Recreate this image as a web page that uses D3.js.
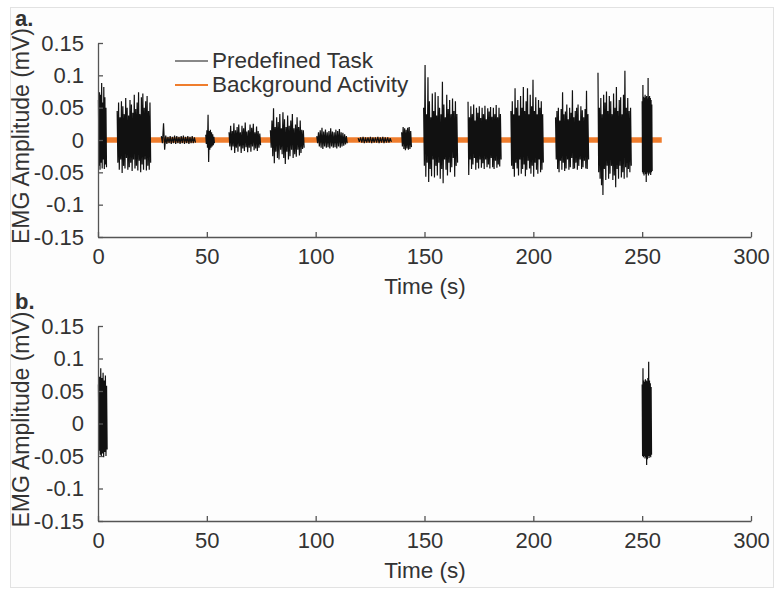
<!DOCTYPE html>
<html>
<head>
<meta charset="utf-8">
<script src="https://cdn.jsdelivr.net/npm/d3@7"></script>
<style>
  body { margin: 0; background: #ffffff; }
  text { font-family: "Liberation Sans", Arial, sans-serif; fill: #333; }
</style>
</head>
<body>
<div id="okvir"></div>
<script>
// osi
var xTicks = [0, 50, 100, 150, 200, 250, 300];
var xTickLabels = ["0", "50", "100", "150", "200", "250", "300"];
var yTicks = [-0.15, -0.1, -0.05, 0, 0.05, 0.1, 0.15];
var yTickLabels = ["-0.15", "-0.1", "-0.05", "0", "0.05", "0.1", "0.15"];

// panel a: pocetak i kraj svakog bloka (s) i vrhovi signala (mV)
var burstStartA = [0.2, 8.8, 29.1, 49.5, 60.2, 79.2, 100.5, 119.5, 139.5, 149.6, 170.0, 189.7, 210.2, 229.7, 250.0];
var burstEndA   = [3.9, 24.2, 44.8, 53.5, 74.7, 94.7, 114.5, 134.8, 144.0, 165.2, 185.2, 204.6, 225.4, 245.0, 254.6];
var peaksUpA = [
  [0.062, 0.074, 0.07, 0.088, 0.058, 0.082, 0.066, 0.05],
  [0.045, 0.058, 0.035, 0.06, 0.052, 0.04, 0.065, 0.05, 0.038, 0.062, 0.055, 0.042, 0.07, 0.048, 0.058, 0.074, 0.04, 0.066, 0.072, 0.05, 0.06, 0.068, 0.045, 0.058],
  [0.006, 0.026, 0.007, 0.005, 0.006, 0.005, 0.007, 0.006, 0.005, 0.006, 0.007, 0.005, 0.006, 0.005, 0.006, 0.004],
  [0.008, 0.015, 0.039, 0.014, 0.016, 0.012, 0.009, 0.005],
  [0.012, 0.022, 0.014, 0.026, 0.015, 0.02, 0.024, 0.012, 0.022, 0.018, 0.027, 0.013, 0.015, 0.024, 0.019, 0.025, 0.012, 0.021, 0.014, 0.01],
  [0.015, 0.03, 0.049, 0.02, 0.035, 0.028, 0.04, 0.018, 0.043, 0.032, 0.02, 0.038, 0.022, 0.03, 0.04, 0.018, 0.024, 0.035, 0.02, 0.03, 0.016, 0.015],
  [0.006, 0.012, 0.015, 0.019, 0.013, 0.016, 0.012, 0.014, 0.018, 0.013, 0.012, 0.016, 0.014, 0.017, 0.012, 0.011, 0.009, 0.006],
  [0.003, 0.004, 0.005, 0.004, 0.004, 0.005, 0.004, 0.004, 0.005, 0.004, 0.005, 0.004, 0.004, 0.003],
  [0.012, 0.02, 0.018, 0.016, 0.019, 0.02, 0.014],
  [0.05, 0.116, 0.04, 0.097, 0.06, 0.035, 0.072, 0.045, 0.074, 0.038, 0.068, 0.05, 0.04, 0.09, 0.055, 0.035, 0.07, 0.048, 0.062, 0.04, 0.064, 0.045, 0.06, 0.04],
  [0.059, 0.035, 0.052, 0.04, 0.055, 0.03, 0.05, 0.042, 0.052, 0.034, 0.05, 0.04, 0.053, 0.032, 0.049, 0.044, 0.051, 0.036, 0.05, 0.04, 0.054, 0.035, 0.05, 0.04],
  [0.045, 0.06, 0.04, 0.08, 0.05, 0.062, 0.038, 0.068, 0.05, 0.082, 0.045, 0.06, 0.08, 0.04, 0.07, 0.052, 0.093, 0.045, 0.066, 0.04, 0.062, 0.05, 0.06, 0.04],
  [0.035, 0.045, 0.05, 0.03, 0.048, 0.074, 0.04, 0.044, 0.055, 0.032, 0.05, 0.042, 0.077, 0.035, 0.045, 0.05, 0.055, 0.03, 0.052, 0.046, 0.035, 0.048, 0.076, 0.04],
  [0.104, 0.05, 0.065, 0.04, 0.07, 0.058, 0.075, 0.045, 0.068, 0.06, 0.04, 0.072, 0.05, 0.082, 0.045, 0.062, 0.066, 0.04, 0.07, 0.107, 0.05, 0.065, 0.045, 0.05],
  [0.06, 0.085, 0.067, 0.065, 0.07, 0.066, 0.068, 0.064, 0.096, 0.066, 0.068, 0.065, 0.062, 0.055]
];
var peaksLoA = [
  [-0.04, -0.046, -0.035, -0.044, -0.03, -0.045, -0.038, -0.042],
  [-0.035, -0.046, -0.03, -0.051, -0.04, -0.044, -0.028, -0.046, -0.042, -0.035, -0.048, -0.03, -0.044, -0.04, -0.047, -0.032, -0.05, -0.038, -0.046, -0.03, -0.047, -0.04, -0.046, -0.035],
  [-0.005, -0.015, -0.006, -0.005, -0.006, -0.005, -0.006, -0.005, -0.006, -0.005, -0.006, -0.005, -0.006, -0.005, -0.005, -0.004],
  [-0.006, -0.012, -0.034, -0.015, -0.012, -0.01, -0.008, -0.005],
  [-0.01, -0.016, -0.01, -0.02, -0.012, -0.018, -0.01, -0.02, -0.013, -0.017, -0.011, -0.019, -0.012, -0.018, -0.01, -0.016, -0.013, -0.017, -0.012, -0.008],
  [-0.012, -0.025, -0.036, -0.018, -0.028, -0.03, -0.015, -0.022, -0.028, -0.037, -0.018, -0.03, -0.025, -0.015, -0.028, -0.022, -0.026, -0.015, -0.024, -0.02, -0.014, -0.012],
  [-0.005, -0.01, -0.012, -0.014, -0.01, -0.012, -0.011, -0.013, -0.01, -0.012, -0.011, -0.013, -0.01, -0.012, -0.01, -0.009, -0.007, -0.005],
  [-0.003, -0.004, -0.005, -0.004, -0.004, -0.005, -0.004, -0.004, -0.005, -0.004, -0.005, -0.004, -0.004, -0.003],
  [-0.01, -0.014, -0.016, -0.013, -0.015, -0.014, -0.011],
  [-0.04, -0.057, -0.035, -0.065, -0.045, -0.056, -0.03, -0.058, -0.04, -0.055, -0.035, -0.06, -0.045, -0.067, -0.03, -0.046, -0.055, -0.035, -0.05, -0.042, -0.028, -0.057, -0.04, -0.035],
  [-0.054, -0.03, -0.045, -0.038, -0.028, -0.046, -0.035, -0.044, -0.03, -0.043, -0.036, -0.045, -0.03, -0.042, -0.038, -0.044, -0.028, -0.042, -0.045, -0.032, -0.043, -0.038, -0.041, -0.03],
  [-0.04, -0.045, -0.057, -0.035, -0.044, -0.055, -0.03, -0.052, -0.045, -0.038, -0.056, -0.046, -0.032, -0.044, -0.052, -0.04, -0.057, -0.035, -0.046, -0.052, -0.03, -0.05, -0.046, -0.035],
  [-0.03, -0.045, -0.05, -0.032, -0.046, -0.035, -0.048, -0.044, -0.03, -0.046, -0.042, -0.028, -0.045, -0.044, -0.035, -0.046, -0.04, -0.03, -0.045, -0.042, -0.032, -0.044, -0.045, -0.03],
  [-0.05, -0.06, -0.07, -0.085, -0.045, -0.062, -0.04, -0.06, -0.052, -0.04, -0.062, -0.055, -0.073, -0.045, -0.06, -0.04, -0.058, -0.05, -0.06, -0.042, -0.058, -0.045, -0.05, -0.04],
  [-0.05, -0.052, -0.055, -0.05, -0.053, -0.065, -0.052, -0.05, -0.055, -0.052, -0.05, -0.054, -0.05, -0.048]
];

// pozadinska aktivnost (panel a)
var bgTime = [3, 259];
var bgValue = [0, 0];

// panel b: samo dva bloka
var burstStartB = [0.2, 250.0];
var burstEndB   = [4.2, 254.3];
var peaksUpB = [
  [0.06, 0.072, 0.085, 0.07, 0.078, 0.066, 0.074, 0.058],
  [0.06, 0.085, 0.066, 0.064, 0.068, 0.066, 0.065, 0.07, 0.095, 0.066, 0.062, 0.056]
];
var peaksLoB = [
  [-0.042, -0.048, -0.05, -0.046, -0.052, -0.044, -0.05, -0.04],
  [-0.05, -0.052, -0.05, -0.054, -0.052, -0.064, -0.055, -0.05, -0.053, -0.05, -0.052, -0.048]
];

var width = 776, height = 589;

var svg = d3.select("#okvir")
    .append("svg")
    .attr("width", width)
    .attr("height", height);

// okvir slike
svg.append("rect")
    .attr("x", 10.5).attr("y", 7.5)
    .attr("width", 763).attr("height", 580)
    .attr("fill", "#fdfdfd")
    .attr("stroke", "#e2e2e2");

// pretvara vrhove u cik-cak tocke signala
function burstPoints(t0, t1, up, lo) {
    var step = (t1 - t0) / (up.length - 0.5);
    var pts = [];
    up.forEach(function (v, i) {
        pts.push([t0 + i * step, v]);
        pts.push([t0 + (i + 0.5) * step, lo[i]]);
    });
    return pts;
}

function crtajPanel(top, bottom, label, starts, ends, ups, los, withBg) {
    var x = d3.scaleLinear().domain([0, 300]).range([98, 751]);
    var y = d3.scaleLinear().domain([-0.15, 0.15]).range([bottom, top]);
    var g = svg.append("g");

    var line = d3.line().x(d => x(d[0])).y(d => y(d[1]));

    if (withBg) {
        g.append("path")
            .datum(bgTime.map((t, i) => [t, bgValue[i]]))
            .attr("d", line)
            .attr("fill", "none")
            .attr("stroke", "#ef7d2d")
            .attr("stroke-width", 5.5);
    }

    starts.forEach(function (t0, i) {
        g.append("path")
            .datum(burstPoints(t0, ends[i], ups[i], los[i]))
            .attr("d", line)
            .attr("fill", "none")
            .attr("stroke", "#111")
            .attr("stroke-width", 1.2)
            .attr("stroke-linejoin", "miter")
            .attr("stroke-miterlimit", 1);
    });

    // y os
    var ya = g.append("g")
        .attr("transform", "translate(" + x(0) + ",0)")
        .call(d3.axisLeft(y).tickValues(yTicks)
            .tickFormat((d, i) => yTickLabels[i])
            .tickSizeInner(-5).tickSizeOuter(0).tickPadding(14));
    // x os
    var xa = g.append("g")
        .attr("transform", "translate(0," + y(-0.15) + ")")
        .call(d3.axisBottom(x).tickValues(xTicks)
            .tickFormat((d, i) => xTickLabels[i])
            .tickSizeInner(-5).tickSizeOuter(0).tickPadding(11));

    [ya, xa].forEach(function (a) {
        a.select(".domain").attr("stroke", "#555").attr("stroke-width", 1.3);
        a.selectAll(".tick line").attr("stroke", "#555").attr("stroke-width", 1.3);
        a.selectAll("text").style("font-size", "22px").attr("fill", "#333");
    });

    // oznaka x osi
    g.append("text")
        .attr("x", 425)
        .attr("y", bottom + 57)
        .attr("text-anchor", "middle")
        .style("font-size", "22.5px")
        .text("Time (s)");

    // oznaka y osi
    g.append("text")
        .attr("transform", "rotate(-90)")
        .attr("x", -(top + bottom) / 2 + 4)
        .attr("y", 29)
        .attr("text-anchor", "middle")
        .style("font-size", "23px")
        .text("EMG Amplitude (mV)");

    // oznaka panela
    g.append("text")
        .attr("x", 15)
        .attr("y", top - 17)
        .style("font-size", "22px")
        .style("font-weight", "bold")
        .attr("fill", "#111")
        .text(label);
}

crtajPanel(43, 237, "a.", burstStartA, burstEndA, peaksUpA, peaksLoA, true);
crtajPanel(326, 521, "b.", burstStartB, burstEndB, peaksUpB, peaksLoB, false);

// legenda
var legend = svg.append("g");
legend.append("line")
    .attr("x1", 175).attr("x2", 208).attr("y1", 61).attr("y2", 61)
    .attr("stroke", "#151515").attr("stroke-width", 1.2);
legend.append("text")
    .attr("x", 212).attr("y", 68)
    .style("font-size", "22.5px")
    .text("Predefined Task");
legend.append("line")
    .attr("x1", 175).attr("x2", 208).attr("y1", 85).attr("y2", 85)
    .attr("stroke", "#ef7d2d").attr("stroke-width", 2);
legend.append("text")
    .attr("x", 212).attr("y", 92)
    .style("font-size", "22.5px")
    .text("Background Activity");
</script>
</body>
</html>
